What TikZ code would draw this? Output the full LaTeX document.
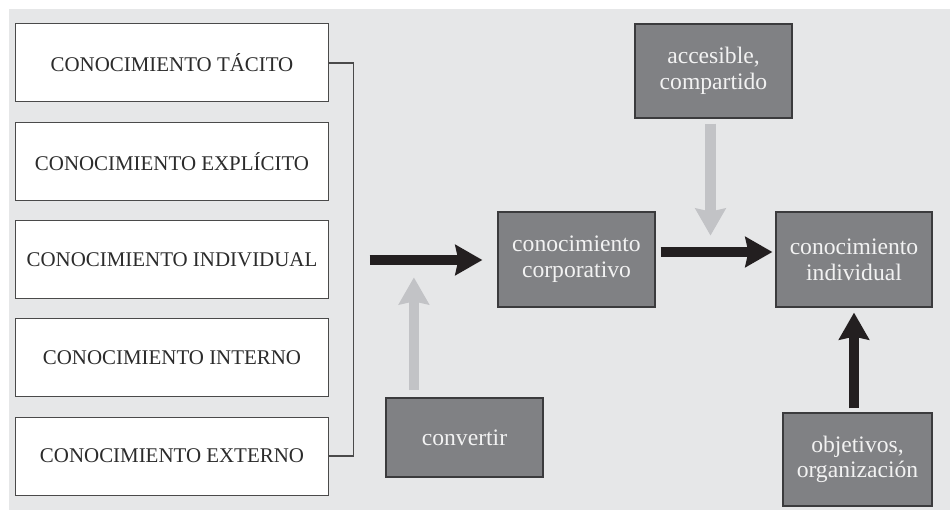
\documentclass[tikz,border=0pt]{standalone}
\usepackage{fontspec}
\setmainfont{Liberation Serif}
\usetikzlibrary{arrows.meta,calc}

\definecolor{panel}{HTML}{E6E7E8}
\definecolor{boxgray}{HTML}{808184}
\definecolor{boxedge}{HTML}{3B3B3D}
\definecolor{boxtext}{HTML}{F2F2F2}
\definecolor{textdark}{HTML}{2B2B2B}
\definecolor{lineedge}{HTML}{4A4A4A}
\definecolor{arrowdark}{HTML}{231F20}
\definecolor{arrowlight}{HTML}{C2C3C6}

\tikzset{
  kbox/.style={draw=lineedge, fill=white, line width=1bp,
    minimum width=312bp, minimum height=78bp, inner sep=0pt,
    text=textdark, font=\fontsize{21}{24}\selectfont},
  gbox/.style={draw=boxedge, fill=boxgray, line width=1.2bp, inner sep=0pt,
    text=boxtext, align=center, font=\fontsize{23.7}{25.8}\selectfont},
  bracket/.style={draw=lineedge, line width=1.2bp},
  fatarrow/.style={line width=10.5bp,
    -{Stealth[length=27bp,width=30bp,inset=3bp]}},
  darkarrow/.style={fatarrow, draw=arrowdark},
  lightarrow/.style={fatarrow, draw=arrowlight},
}

\begin{document}
\begin{tikzpicture}[x=1bp,y=-1bp]
  \useasboundingbox (0,0) rectangle (950,512);
  \fill[white] (0,0) rectangle (950,512);
  \fill[panel] (9,9) rectangle (950,510);

  % kinds of knowledge
  \node[kbox] (tacito)    at (172,63)     {CONOCIMIENTO TÁCITO};
  \node[kbox] (explicito) at (172,161.25) {CONOCIMIENTO EXPLÍCITO};
  \node[kbox] (indiv)     at (172,259.5)  {CONOCIMIENTO INDIVIDUAL};
  \node[kbox] (interno)   at (172,357.75) {CONOCIMIENTO INTERNO};
  \node[kbox] (externo)   at (172,456)    {CONOCIMIENTO EXTERNO};

  % process boxes
  \node[gbox, minimum width=157bp, minimum height=95bp] (corp) at (576.5,259.5) {conocimiento\\corporativo};
  \node[gbox, minimum width=156bp, minimum height=95bp] (ind)  at (854,259.5)   {conocimiento\\individual};
  \node[gbox, minimum width=157bp, minimum height=94bp] (acc)  at (713.5,71)    {accesible,\\compartido};
  \node[gbox, minimum width=157bp, minimum height=79bp] (conv) at (464.5,437.5) {convertir};
  \node[gbox, minimum width=149bp, minimum height=93bp] (obj)  at (857.5,459.5) {objetivos,\\organización};

  % bracket grouping the five kinds
  \coordinate (brk) at ($(tacito.east)+(25,0)$);
  \draw[bracket] (tacito.east) -- (brk) -- (brk |- externo.east) -- (externo.east);

  % flows
  \coordinate (merge) at (brk |- corp.west);
  \draw[darkarrow] ($(merge)+(16,0.5)$) -- ($(corp.west)+(-15,0.5)$);
  \coordinate (convtop) at ($(conv.north west)+(28.5,-7)$);
  \coordinate (convtip) at ($(convtop)+(0,-113)$);
  \draw[lightarrow] (convtop) -- (convtip);
  \coordinate (acctop) at ($(acc.south)+(-3,5)$);
  \coordinate (acctip) at ($(acctop)+(0,112)$);
  \draw[lightarrow] (acctop) -- (acctip);
  \draw[darkarrow] ($(corp.east)+(5,-7.5)$) -- ($(ind.west)+(-3,-7.5)$);
  \draw[darkarrow] ($(obj.north)+(-3.5,-4)$) -- ($(ind.south)+(0,5)$);
\end{tikzpicture}
\end{document}
